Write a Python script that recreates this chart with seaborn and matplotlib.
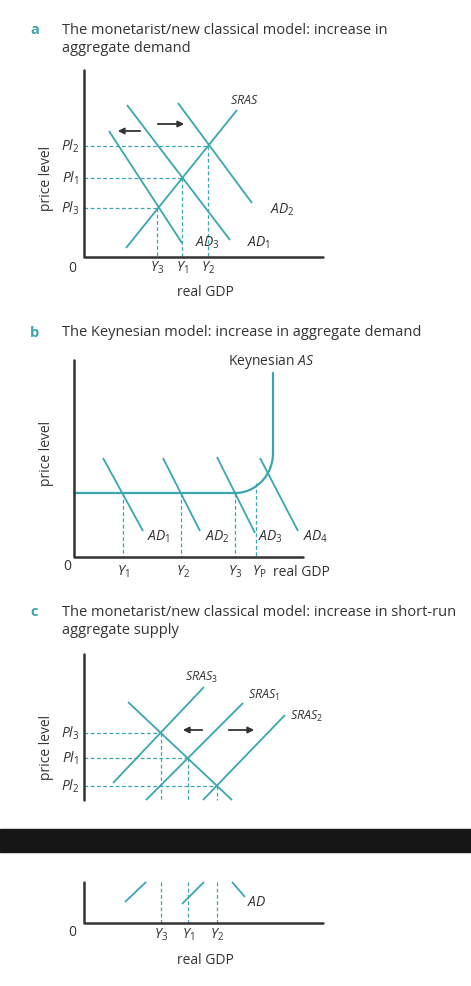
import numpy as np
import matplotlib.pyplot as plt
import seaborn as sns

## colours
TEAL = '#3aa6ae'
DARK = '#333333'

## ---- panel a: monetarist AD increase (pixel coords of the diagram) ----
a_axis_y = [70, 257]
a_axis_x = [84, 323]
a_sras = [(126, 248), (237, 110)]
a_ad = {'AD_1': [(127, 105), (230, 240)],
        'AD_2': [(178, 103), (252, 203)],
        'AD_3': [(109, 131), (182, 243)]}
a_ad_labels = {'AD_1': (247, 243), 'AD_2': (270, 210), 'AD_3': (195, 243)}
a_eq_x = [208, 182, 157]
a_eq_y = [146, 178, 208]
a_pl_labels = ['Pl_2', 'Pl_1', 'Pl_3']
a_y_labels = ['Y_2', 'Y_1', 'Y_3']

## ---- panel b: Keynesian ----
b_axis_y = [360, 557]
b_axis_x = [74, 303]
b_flat_y = 493
b_kink_x = 235
b_vert_x = 273
b_vert_top = 373
b_ad = [[(103, 458), (143, 531)], [(163, 458), (200, 531)],
        [(217, 457), (255, 533)], [(260, 458), (298, 531)]]
b_ad_labels = ['AD_1', 'AD_2', 'AD_3', 'AD_4']
b_ad_label_pos = [(147, 537), (205, 537), (258, 537), (303, 537)]
b_y_x = [123, 181, 235, 256]
b_y_top = [493, 493, 493, 483]
b_y_labels = ['Y_1', 'Y_2', 'Y_3', 'Y_P']

## ---- panel c: SRAS shift ----
c_axis_y_top = [654, 800]
c_axis_y_bot = [882, 923]
c_axis_x = [84, 323]
c_ad = [(128, 702), (232, 800)]
c_ad_bot = [(232, 882), (245, 897)]
c_sras = {'SRAS_3': [(113, 783), (204, 687)],
          'SRAS_1': [(146, 800), (243, 703)],
          'SRAS_2': [(203, 800), (285, 715)]}
c_sras_labels = {'SRAS_3': (202, 677), 'SRAS_1': (248, 695), 'SRAS_2': (290, 716)}
c_bot_frags = [[(125, 902), (146, 882)], [(182, 904), (204, 882)]]
c_eq_x = [161, 188, 217]
c_eq_y = [733, 758, 786]
c_pl_labels = ['Pl_3', 'Pl_1', 'Pl_2']
c_y_labels = ['Y_3', 'Y_1', 'Y_2']

sns.set_style('white')
plt.rcParams['font.family'] = ['Open Sans', 'DejaVu Sans']
plt.rcParams['mathtext.fontset'] = 'custom'
plt.rcParams['mathtext.it'] = 'Open Sans:italic'
plt.rcParams['mathtext.rm'] = 'Open Sans'

fig = plt.figure(figsize=(4.71, 9.86), dpi=100)
ax = fig.add_axes([0, 0, 1, 1])
ax.set_xlim(0, 471)
ax.set_ylim(986, 0)
ax.axis('off')


def seg(p, color=TEAL, lw=1.3, ls='-'):
    ax.plot([p[0][0], p[1][0]], [p[0][1], p[1][1]], color=color, lw=lw, ls=ls,
            solid_capstyle='butt')


def dash_h(x0, x1, y):
    ax.plot([x0, x1], [y, y], color=TEAL, lw=0.9, ls=(0, (3, 2)))


def dash_v(x, y0, y1):
    ax.plot([x, x], [y0, y1], color=TEAL, lw=0.9, ls=(0, (3, 2)))


def axes_l(x0, ytop, ybot, xend):
    ax.plot([x0, x0, xend], [ytop, ybot, ybot], color=DARK, lw=1.8)


def lab(x, y, s, size=10, ha='center', va='center', **kw):
    ax.text(x, y, s, fontsize=size, ha=ha, va=va, color=DARK, **kw)


def m(s):
    a, b = s.split('_')
    return r'$\mathit{%s}_{%s}$' % (a, b)


def arrow(x0, x1, y):
    ax.annotate('', xy=(x1, y), xytext=(x0, y),
                arrowprops=dict(arrowstyle='-|>', color=DARK, lw=1.3, mutation_scale=9))


def title(y, letter, lines):
    ax.text(30, y, letter, fontsize=10.5, color=TEAL, fontweight='bold', va='center')
    for i, t in enumerate(lines):
        ax.text(62, y + 19 * i, t, fontsize=10.5, color=DARK, va='center')


## panel a
title(30, 'a', ['The monetarist/new classical model: increase in', 'aggregate demand'])
for x, y in zip(a_eq_x, a_eq_y):
    dash_h(a_axis_x[0], x, y)
    dash_v(x, y, a_axis_y[1])
seg(a_sras)
for k, p in a_ad.items():
    seg(p)
    lab(*a_ad_labels[k], m(k), ha='left')
lab(230, 101, r'$\mathit{SRAS}$', size=9, ha='left')
axes_l(a_axis_x[0], a_axis_y[0], a_axis_y[1], a_axis_x[1])
for y, s in zip(a_eq_y, a_pl_labels):
    lab(79, y, m(s), ha='right')
for x, s in zip(a_eq_x, a_y_labels):
    lab(x, 268, m(s))
arrow(143, 115, 131)
arrow(155, 187, 124)
lab(72, 268, '0')
lab(205, 292, 'real GDP')
lab(46, 178, 'price level', rotation=90)

## panel b
title(333, 'b', ['The Keynesian model: increase in aggregate demand'])
for x, yt in zip(b_y_x, b_y_top):
    dash_v(x, yt, b_axis_y[1])
th = np.linspace(0, np.pi / 2, 40)
cx = b_kink_x + (b_vert_x - b_kink_x) * np.sin(th)
cy = (b_flat_y - 40) + 40 * np.cos(th)
ax.plot([b_axis_x[0], b_kink_x], [b_flat_y, b_flat_y], color=TEAL, lw=1.6)
ax.plot(cx, cy, color=TEAL, lw=1.6)
ax.plot([b_vert_x, b_vert_x], [b_flat_y - 40, b_vert_top], color=TEAL, lw=1.6)
for p, s, pos in zip(b_ad, b_ad_labels, b_ad_label_pos):
    seg(p)
    lab(*pos, m(s), ha='left')
axes_l(b_axis_x[0], b_axis_y[0], b_axis_y[1], b_axis_x[1])
lab(228, 362, r'Keynesian $\mathit{AS}$', ha='left')
lab(123, 572, m('Y_1'))
lab(183, 572, m('Y_2'))
lab(235, 572, m('Y_3'))
lab(259, 572, r'$\mathit{Y}_{\mathrm{P}}$')
lab(273, 572, 'real GDP', ha='left')
lab(67, 566, '0')
lab(46, 453, 'price level', rotation=90)

## panel c
title(612, 'c', ['The monetarist/new classical model: increase in short-run',
                 'aggregate supply'])
for x, y in zip(c_eq_x, c_eq_y):
    dash_h(c_axis_x[0], x, y)
    dash_v(x, y, c_axis_y_top[1])
    dash_v(x, c_axis_y_bot[0], c_axis_y_bot[1])
seg(c_ad)
seg(c_ad_bot)
for k, p in c_sras.items():
    seg(p)
    lab(*c_sras_labels[k], m(k), size=9, ha='left' if k != 'SRAS_3' else 'center')
for p in c_bot_frags:
    seg(p)
ax.plot([c_axis_x[0], c_axis_x[0]], c_axis_y_top, color=DARK, lw=1.8)
axes_l(c_axis_x[0], c_axis_y_bot[0], c_axis_y_bot[1], c_axis_x[1])
lab(257, 903, r'$\mathit{AD}$', ha='center')
for y, s in zip(c_eq_y, c_pl_labels):
    lab(79, y, m(s), ha='right')
for x, s in zip(c_eq_x, c_y_labels):
    lab(x, 935, m(s))
arrow(205, 180, 730)
arrow(226, 257, 730)
lab(72, 932, '0')
lab(205, 960, 'real GDP')
lab(46, 747, 'price level', rotation=90)
ax.axhspan(829, 852, color='#161616')

fig.savefig('out.png', dpi=100)
